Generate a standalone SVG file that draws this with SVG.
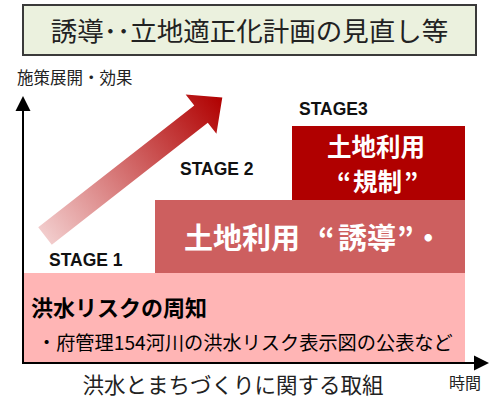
<svg xmlns="http://www.w3.org/2000/svg" width="492" height="398" viewBox="0 0 492 398">
<style>
.jp{font-family:"Noto Sans CJK JP","Noto Sans",sans-serif}
.b{font-weight:bold}
.w{fill:#ffffff}
.k{fill:#000000}
.st{font-family:"Liberation Sans",Arial,sans-serif;font-weight:bold;font-size:17.5px;fill:#111}
.ax{stroke:#000;stroke-width:2;fill:none}
</style>
<defs>
<linearGradient id="ag" gradientUnits="userSpaceOnUse" x1="0" y1="0" x2="225" y2="0">
<stop offset="0" stop-color="#f2cccc"/>
<stop offset="1" stop-color="#b00000"/>
</linearGradient>
</defs>
<g id="title">
<rect x="23" y="5" width="453" height="50" fill="#ebf1de" stroke="#3a3a3a" stroke-width="2"/>
<text x="249.5" y="41" text-anchor="middle" class="jp" font-size="26.5" fill="#222">誘導･･立地適正化計画の見直し等</text>
</g>
<g id="stage1">
<rect x="23" y="273" width="442" height="90" fill="#ffb5b5"/>
<text x="31" y="316" class="jp b k" font-size="22">洪水リスクの周知</text>
<text x="37" y="350" class="jp k" font-size="19.2">・府管理154河川の洪水リスク表示図の公表など</text>
<text x="49" y="266" class="st">STAGE 1</text>
</g>
<g id="stage2">
<rect x="155" y="200" width="310" height="73" fill="#cd5f5f"/>
<text y="249" class="jp b w" font-size="29"><tspan x="184">土地利用</tspan><tspan x="318">“</tspan><tspan x="338">誘導</tspan><tspan x="397">”・</tspan></text>
<text x="180" y="175" class="st">STAGE 2</text>
</g>
<g id="stage3">
<rect x="292" y="126" width="173" height="74" fill="#b00000"/>
<text x="376" y="156" text-anchor="middle" class="jp b w" font-size="24.5">土地利用</text>
<text y="191" class="jp b w" font-size="24.5"><tspan x="337">“</tspan><tspan x="353">規制</tspan><tspan x="404">”</tspan></text>
<text x="299" y="115" class="st">STAGE3</text>
</g>
<g id="progress-arrow">
<polygon transform="translate(45,236) rotate(-38)" points="0,-11 198,-11 198,-25 225,0 198,25 198,11 0,11" fill="url(#ag)"/>
</g>
<g id="axes">
<line class="ax" x1="23" y1="108" x2="23" y2="363"/>
<polygon points="23,96 15.5,111 30.5,111" fill="#000"/>
<line class="ax" x1="22" y1="363" x2="476" y2="363"/>
<polygon points="489,363 474,355.5 474,370.5" fill="#000"/>
<text x="17" y="84" class="jp" font-size="16.5" fill="#222">施策展開・効果</text>
<text x="449" y="389" class="jp" font-size="16" fill="#222">時間</text>
<text x="233" y="393" text-anchor="middle" class="jp" font-size="21.5" fill="#222">洪水とまちづくりに関する取組</text>
</g>
</svg>
